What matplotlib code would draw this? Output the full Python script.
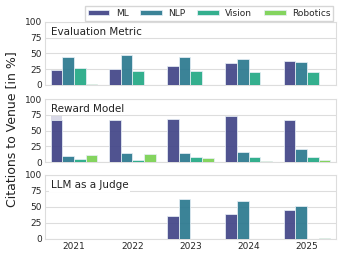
import numpy as np
import matplotlib.pyplot as plt
import seaborn as sns

sns.set_style("whitegrid")
plt.rcParams["font.family"] = ["DejaVu Sans"]

# ── Data ──────────────────────────────────────────────────────────────────────
years  = ["2021", "2022", "2023", "2024", "2025"]
venues = ["ML", "NLP", "Vision", "Robotics"]
panels = ["Evaluation Metric", "Reward Model", "LLM as a Judge"]

eval_metric = {
    "ML":       [23, 24.5, 30, 34.5, 38],
    "NLP":      [44.5, 48, 45, 41.5, 37],
    "Vision":   [27, 22, 21.5, 21, 21],
    "Robotics": [1.5, 0, 0, 0, 0],
}
reward_model = {
    "ML":       [66, 66, 69, 73.5, 66],
    "NLP":      [10, 13.8, 13.8, 15.3, 21],
    "Vision":   [4.5, 3.7, 8, 7.4, 7.9],
    "Robotics": [11, 12.7, 6.5, 1.5, 2.5],
}
llm_judge = {
    "ML":       [0, 0, 35.5, 38.8, 45],
    "NLP":      [0, 0, 62, 59.7, 51.4],
    "Vision":   [0, 0, 0, 0, 0],
    "Robotics": [0, 0, 0, 0, 1.2],
}
# faint ML bar seen behind Reward Model 2021
rm_ml_faint = [73, 0, 0, 0, 0]

colors = sns.color_palette("viridis", 4)

# ── Figure ────────────────────────────────────────────────────────────────────
fig = plt.figure(figsize=(3.38, 2.58), dpi=100)
ax_pos = [
    [0.133, 0.671, 0.861, 0.244],
    [0.133, 0.372, 0.861, 0.244],
    [0.133, 0.074, 0.861, 0.248],
]
axes = [fig.add_axes(p) for p in ax_pos]

x = np.arange(len(years))
w = 0.2
offsets = (np.arange(len(venues)) - 1.5) * w

for ax, name, data in zip(axes, panels, [eval_metric, reward_model, llm_judge]):
    if name == "Reward Model":
        ax.bar(x + offsets[0], rm_ml_faint, w, color=colors[0], alpha=0.2,
               edgecolor="none", zorder=2)
    for i, v in enumerate(venues):
        ax.bar(x + offsets[i], data[v], w, color=colors[i], alpha=0.92,
               edgecolor="#e6eef5", linewidth=0.6, label=v, zorder=3)
    ax.set_ylim(0, 100)
    ax.set_xlim(-0.5, 4.5)
    ax.set_yticks([0, 25, 50, 75, 100])
    ax.tick_params(axis="y", labelsize=6.5, pad=2, length=0)
    ax.tick_params(axis="x", labelsize=6.5, pad=2, length=0)
    ax.grid(True, axis="y", color="#dddddd", linewidth=0.8)
    ax.grid(False, axis="x")
    for s in ax.spines.values():
        s.set_color("#dddddd")
        s.set_linewidth(0.8)
    ax.text(0.02, 0.84, name, transform=ax.transAxes, fontsize=7.5,
            ha="left", va="center", color="#222222", zorder=5,
            bbox=dict(facecolor="white", edgecolor="none", pad=1.0))
    ax.set_xticks(x)
    if ax is axes[-1]:
        ax.set_xticklabels(years)
    else:
        ax.set_xticklabels([])

fig.text(0.035, 0.5, "Citations to Venue [in %]", rotation=90,
         ha="center", va="center", fontsize=9, color="#222222")

handles, labels = axes[0].get_legend_handles_labels()
fig.legend(handles, labels, ncol=4, loc="upper right",
           bbox_to_anchor=(1.0, 0.995), fontsize=6.5, frameon=True,
           fancybox=False, edgecolor="#cccccc", handlelength=2.4,
           handleheight=0.45, handletextpad=0.7, columnspacing=1.3,
           borderpad=0.35)

plt.savefig("out.png", dpi=100)
